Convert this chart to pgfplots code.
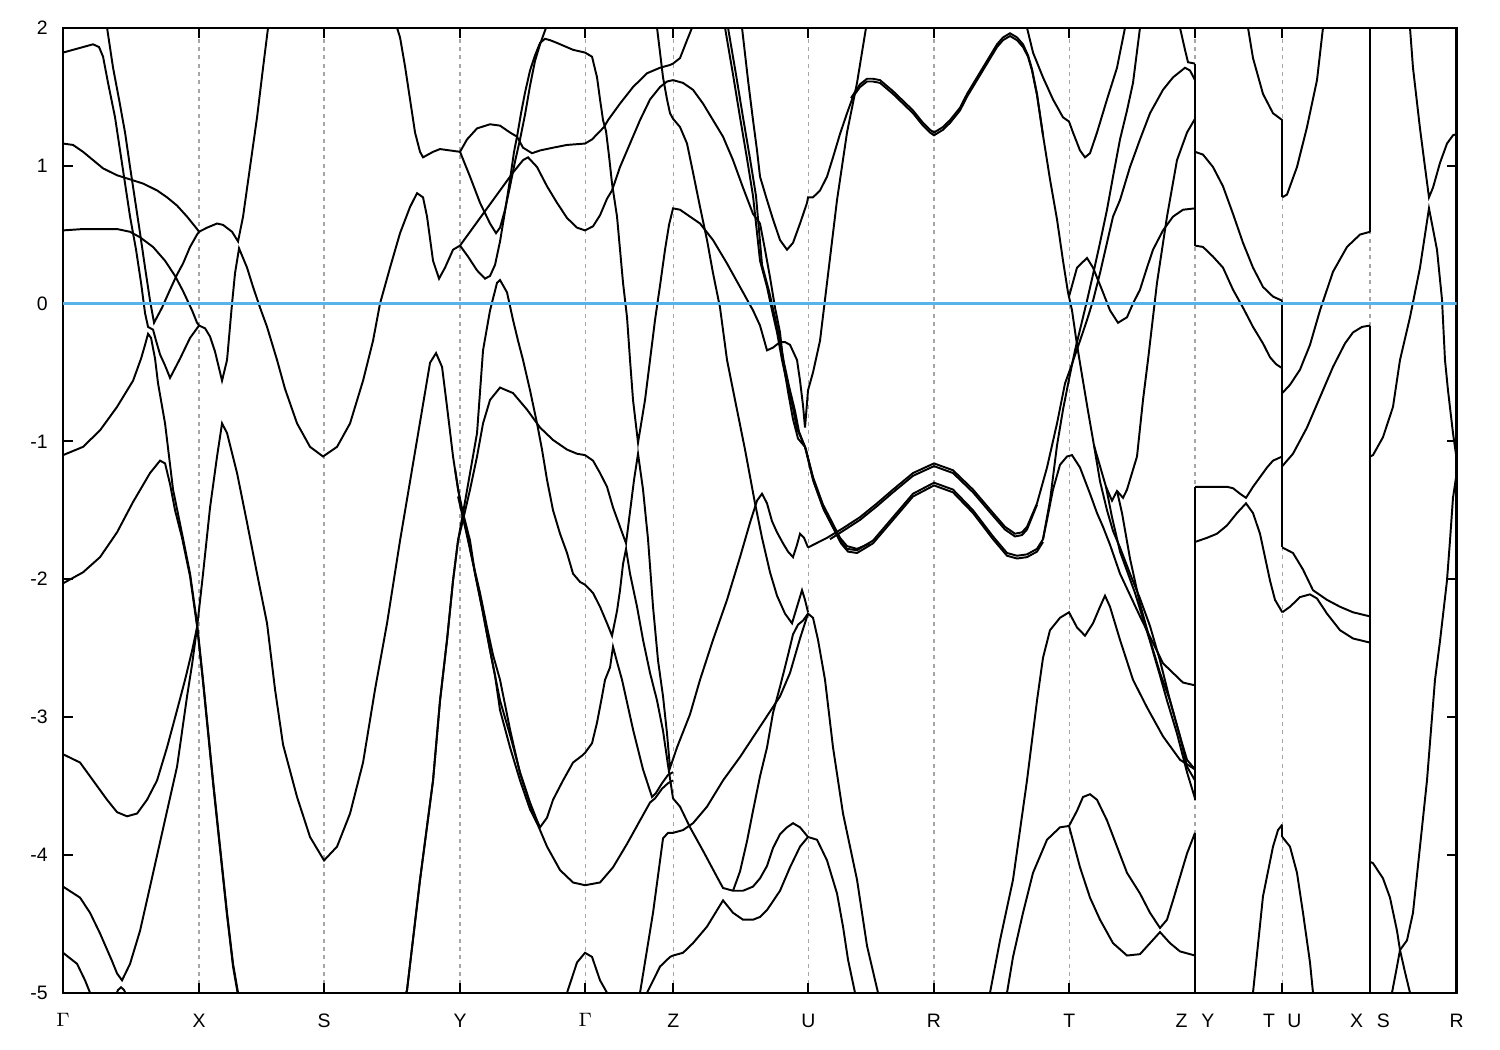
\documentclass[border=0pt]{standalone}
\usepackage{fontspec}
\setmainfont{Liberation Sans}
\usepackage{pgfplots}
\pgfplotsset{compat=1.18}
\definecolor{zeroblue}{RGB}{86,180,233}
\begin{document}
\begin{tikzpicture}
\begin{axis}[
  name=ax,
  scale only axis,
  width=501.7pt, height=347.4pt,
  xmin=63, xmax=1456.7, ymin=-5, ymax=2,
  axis line style={line width=0.9pt},
  xtick={63,199,324,460,585.3,673.3,808.3,934,1069.3,1195,1282.3,1370,1456.7},
  xticklabels={$\Gamma$,X,S,Y,$\Gamma$,Z,U,R,T,{Z\hspace{5pt}Y},{T\hspace{4.5pt}U},{X\hspace{5pt}S},R},
  ytick={-5,-4,-3,-2,-1,0,1,2},
  yticklabels={-5,-4,-3,-2,-1,0,1,2},
  tick align=inside, major tick length=3.6pt,
  tick style={line width=0.8pt, black},
  xmajorgrids,
  major grid style={gray!70, line width=0.4pt, dash pattern=on 1.5pt off 1.5pt},
  ticklabel style={font=\fontsize{7}{8}\selectfont},
  xticklabel style={yshift=-4pt},
  yticklabel style={xshift=-2pt},
  every axis plot/.append style={black, line width=0.7pt, no markers},
]
% ---------------- Gamma - X - S - Y ----------------
\addplot[] coordinates {(63,1.82)(83,1.86)(93,1.88)(99,1.86)(103,1.79)(108,1.60)(115,1.35)(120,1.11)(125,0.87)(130,0.63)(136,0.39)(141,0.15)(145,-0.07)(148,-0.17)(153,-0.19)(156,-0.27)(160,-0.37)(165,-0.45)(170,-0.54)(180,-0.40)(190,-0.25)(199,-0.16)};
\addplot[] coordinates {(106,2.06)(107,2.00)(113,1.71)(119,1.48)(125,1.24)(130,0.99)(135,0.75)(140,0.51)(145,0.26)(150,0.02)(154,-0.14)(162,-0.03)(170,0.10)(177,0.21)(183,0.29)(190,0.41)(197,0.50)(199,0.52)(207,0.55)(217,0.58)(223,0.57)(232,0.52)(238,0.45)(243,0.63)(250,0.99)(257,1.35)(263,1.71)(268,2.00)(269,2.06)};
\addplot[] coordinates {(63,1.16)(73,1.15)(83,1.10)(93,1.04)(103,0.98)(117,0.93)(130,0.90)(143,0.87)(157,0.82)(167,0.77)(177,0.71)(187,0.63)(197,0.54)(199,0.52)};
\addplot[] coordinates {(63,0.53)(83,0.54)(117,0.54)(130,0.52)(140,0.48)(153,0.41)(165,0.31)(175,0.20)(183,0.09)(192,-0.05)(197,-0.14)(199,-0.16)(205,-0.18)(210,-0.24)(215,-0.35)(222,-0.56)(227,-0.41)(232,0.00)(235,0.22)(239,0.40)(247,0.26)(253,0.12)(260,-0.03)(267,-0.17)(277,-0.41)(285,-0.62)(297,-0.87)(310,-1.04)(323,-1.11)(337,-1.04)(350,-0.87)(363,-0.56)(373,-0.27)(380,0.00)(390,0.26)(400,0.51)(410,0.70)(417,0.80)(423,0.77)(427,0.63)(433,0.31)(439,0.18)(445,0.26)(453,0.39)(460,0.42)(473,0.55)(487,0.69)(500,0.82)(513,0.95)(523,1.04)(528,1.06)(537,0.99)(547,0.85)(557,0.73)(567,0.62)(577,0.55)(585,0.53)(593,0.56)(600,0.64)(607,0.76)(612,0.82)(620,0.99)(630,1.16)(640,1.33)(650,1.48)(660,1.57)(667,1.61)(673,1.62)(683,1.60)(693,1.55)(703,1.45)(713,1.33)(723,1.21)(733,1.04)(743,0.84)(753,0.65)(760,0.58)(765,0.39)(770,0.19)(775,-0.03)(780,-0.21)(783,-0.41)(788,-0.64)(793,-0.84)(798,-0.98)(805,-1.04)(813,-1.26)(823,-1.46)(833,-1.60)(840,-1.70)(847,-1.76)(857,-1.78)(870,-1.74)};
\addplot[] coordinates {(63,-1.10)(83,-1.04)(100,-0.92)(117,-0.75)(133,-0.56)(141,-0.40)(145,-0.30)(148,-0.22)(151,-0.25)(155,-0.40)(158,-0.58)(165,-0.87)(173,-1.35)(182,-1.67)(190,-1.96)(197,-2.32)(203,-2.73)(213,-3.46)(220,-3.94)(227,-4.42)(233,-4.79)(238,-5.00)(239,-5.06)};
\addplot[] coordinates {(63,-2.03)(83,-1.95)(100,-1.84)(117,-1.66)(133,-1.44)(150,-1.23)(160,-1.14)(165,-1.16)(170,-1.31)(175,-1.50)(182,-1.70)(190,-1.98)(197,-2.34)(203,-2.75)(213,-3.48)(220,-3.96)(227,-4.44)(233,-4.81)(238,-5.02)(239,-5.06)};
\addplot[] coordinates {(63,-4.23)(80,-4.31)(90,-4.42)(100,-4.57)(112,-4.77)(117,-4.86)(122,-4.91)(130,-4.79)(140,-4.55)(150,-4.23)(163,-3.81)(177,-3.36)(187,-2.85)(192,-2.62)(197,-2.35)(203,-1.96)(210,-1.48)(217,-1.11)(222,-0.87)(227,-0.94)(237,-1.23)(247,-1.59)(257,-1.96)(267,-2.32)(275,-2.80)(283,-3.20)(297,-3.58)(310,-3.87)(324,-4.04)(337,-3.94)(350,-3.70)(363,-3.33)(375,-2.80)(387,-2.32)(400,-1.72)(417,-0.99)(430,-0.43)(436,-0.36)(442,-0.46)(447,-0.75)(453,-1.11)(458,-1.35)(463,-1.52)(470,-1.72)(475,-1.96)(482,-2.20)(488,-2.44)(495,-2.70)(500,-2.95)(510,-3.22)(520,-3.46)(530,-3.67)(537,-3.77)(540,-3.80)(547,-3.73)(553,-3.60)(563,-3.46)(573,-3.33)(582,-3.28)(585,-3.26)(592,-3.19)(597,-3.04)(602,-2.85)(605,-2.73)(610,-2.64)(613,-2.49)(617,-2.60)(622,-2.73)(633,-3.09)(643,-3.38)(652,-3.58)(656,-3.55)(662,-3.48)(668,-3.42)(673,-3.40)};
\addplot[] coordinates {(63,-3.27)(80,-3.33)(93,-3.46)(107,-3.60)(117,-3.69)(127,-3.72)(137,-3.70)(147,-3.60)(157,-3.46)(167,-3.22)(177,-2.95)(185,-2.73)(192,-2.52)(197,-2.35)};
\addplot[] coordinates {(455,-1.20)(460,-1.43)(463,-1.55)(467,-1.67)(475,-1.96)(483,-2.25)(492,-2.59)(500,-2.88)(510,-3.13)(520,-3.40)(530,-3.62)(537,-3.75)(540,-3.80)};
\addplot[] coordinates {(63,-4.71)(77,-4.79)(85,-4.91)(90,-5.00)(91,-5.06)};
\addplot[] coordinates {(115,-5.03)(118,-4.98)(121,-4.96)(124,-4.98)(127,-5.03)};
% ---------------- Y - Gamma - Z ----------------
\addplot[] coordinates {(396,2.05)(397,2.00)(400,1.93)(405,1.72)(410,1.48)(415,1.24)(420,1.10)(423,1.06)(433,1.10)(440,1.12)(450,1.11)(460,1.10)};
\addplot[] coordinates {(460,1.10)(467,1.19)(477,1.27)(490,1.30)(500,1.29)(510,1.24)(517,1.21)(523,1.13)(532,1.09)(540,1.11)(553,1.13)(567,1.15)(585,1.16)(592,1.19)(600,1.25)(604,1.28)(608,1.33)(620,1.45)(633,1.57)(647,1.67)(660,1.71)(670,1.73)(673,1.74)(680,1.78)(687,1.91)(692,2.00)(693,2.06)};
\addplot[] coordinates {(460,1.10)(470,0.92)(480,0.73)(490,0.58)(496,0.51)(500,0.55)(505,0.68)(510,0.85)(515,1.03)(520,1.19)(525,1.37)(530,1.58)(535,1.76)(540,1.88)(546,2.00)(547,2.06)};
\addplot[] coordinates {(460,0.42)(468,0.34)(477,0.24)(485,0.18)(490,0.20)(495,0.28)(500,0.45)(505,0.67)(510,0.90)(514,1.10)(517,1.21)(521,1.38)(525,1.53)(530,1.69)(535,1.80)(540,1.89)(545,1.92)(550,1.91)(557,1.89)(573,1.84)(585,1.82)(592,1.79)(597,1.64)(600,1.48)(603,1.33)(606,1.25)(609,1.07)(612,0.87)(617,0.63)(620,0.39)(623,0.15)(627,-0.10)(630,-0.41)(633,-0.70)(638,-1.01)(645,-0.70)(650,-0.41)(655,-0.12)(660,0.13)(665,0.39)(669,0.57)(673,0.69)(680,0.68)(690,0.63)(700,0.58)(713,0.46)(727,0.29)(740,0.12)(753,-0.05)(760,-0.16)(767,-0.34)(773,-0.32)(780,-0.28)(785,-0.28)(790,-0.30)(797,-0.41)(800,-0.56)(803,-0.74)(805,-0.90)(808,-0.63)(813,-0.50)(820,-0.27)(827,0.15)(837,0.75)(847,1.24)(857,1.60)(866,2.00)(867,2.06)};
\addplot[] coordinates {(404,-5.06)(407,-4.98)(420,-4.18)(433,-3.46)(440,-2.88)(447,-2.44)(453,-2.01)(458,-1.72)(463,-1.57)(470,-1.35)(477,-1.11)(483,-0.87)(490,-0.70)(500,-0.61)(513,-0.65)(527,-0.77)(540,-0.90)(553,-0.99)(567,-1.06)(577,-1.09)(585,-1.10)(593,-1.14)(600,-1.23)(607,-1.33)(613,-1.48)(620,-1.62)(626,-1.74)(630,-1.51)(634,-1.28)(638,-1.09)(643,-1.35)(648,-1.71)(653,-2.20)(658,-2.59)(663,-2.85)(667,-3.12)(670,-3.37)(677,-3.22)(690,-2.98)(700,-2.73)(713,-2.44)(727,-2.15)(740,-1.84)(750,-1.59)(757,-1.43)(762,-1.38)(767,-1.45)(772,-1.58)(777,-1.66)(783,-1.74)(788,-1.80)(793,-1.84)(797,-1.75)(800,-1.67)(804,-1.70)(808,-1.77)};
\addplot[] coordinates {(404,-5.06)(407,-4.98)(420,-4.18)(433,-3.46)(440,-2.88)(447,-2.44)(453,-2.01)(458,-1.72)(463,-1.52)(470,-1.23)(477,-0.94)(483,-0.34)(490,-0.05)(497,0.15)(500,0.17)(507,0.08)(513,-0.12)(518,-0.27)(523,-0.41)(530,-0.63)(537,-0.87)(542,-1.06)(547,-1.28)(553,-1.50)(560,-1.67)(567,-1.81)(573,-1.96)(580,-2.02)(585,-2.04)(593,-2.10)(600,-2.20)(607,-2.32)(612,-2.41)(617,-2.23)(620,-2.08)(623,-1.89)(626,-1.78)(630,-1.96)(637,-2.20)(643,-2.44)(650,-2.68)(657,-2.88)(663,-3.10)(668,-3.35)(673,-3.59)(680,-3.65)(690,-3.80)(703,-3.97)(717,-4.16)(723,-4.24)(733,-4.26)(743,-4.26)(753,-4.23)(760,-4.17)(767,-4.08)(773,-3.95)(780,-3.85)(787,-3.80)(793,-3.77)(800,-3.80)(808,-3.87)(817,-3.89)(827,-4.04)(837,-4.28)(843,-4.52)(848,-4.76)(855,-5.00)(856,-5.06)};
\addplot[] coordinates {(458,-1.40)(465,-1.62)(472,-1.85)(480,-2.10)(487,-2.35)(493,-2.55)(500,-2.73)(510,-3.09)(520,-3.41)(533,-3.70)(547,-3.94)(560,-4.11)(573,-4.20)(585,-4.22)(600,-4.20)(613,-4.09)(627,-3.92)(640,-3.75)(650,-3.62)(655,-3.59)(662,-3.52)(668,-3.48)(673,-3.46)};
\addplot[] coordinates {(565,-5.03)(567,-5.00)(577,-4.78)(585,-4.71)(592,-4.74)(600,-4.91)(607,-5.00)(608,-5.03)};
\addplot[] coordinates {(639,-5.06)(640,-5.00)(653,-4.42)(663,-3.88)(668,-3.84)(673,-3.84)(683,-3.82)(693,-3.77)(707,-3.65)(723,-3.46)(740,-3.29)(760,-3.07)(780,-2.85)(790,-2.68)(800,-2.43)(808,-2.25)(813,-2.28)(818,-2.44)(825,-2.73)(833,-3.22)(843,-3.70)(857,-4.18)(867,-4.66)(878,-5.00)(879,-5.06)};
\addplot[] coordinates {(733,-4.26)(740,-4.12)(747,-3.90)(753,-3.68)(760,-3.43)(767,-3.22)(773,-2.97)(780,-2.78)(787,-2.58)(793,-2.40)(798,-2.33)(803,-2.30)(808,-2.25)};
\addplot[] coordinates {(646,-5.06)(647,-5.00)(660,-4.81)(670,-4.74)(673,-4.73)(683,-4.71)(693,-4.64)(707,-4.52)(723,-4.33)(733,-4.42)(743,-4.47)(753,-4.47)(760,-4.45)(767,-4.40)(780,-4.26)(790,-4.09)(800,-3.94)(808,-3.87)};
\addplot[] coordinates {(656,2.06)(657,2.00)(663,1.64)(667,1.48)(670,1.38)(673,1.34)(680,1.28)(687,1.16)(693,0.95)(700,0.70)(707,0.46)(713,0.22)(720,-0.03)(727,-0.41)(735,-0.70)(745,-1.06)(755,-1.45)(762,-1.70)(770,-1.95)(777,-2.12)(785,-2.25)(792,-2.32)(797,-2.20)(802,-2.08)(805,-2.15)(808,-2.24)};
% ---------------- Z - U - R - T ----------------
\addplot[] coordinates {(724,2.06)(725,2.00)(733,1.66)(740,1.35)(747,1.05)(753,0.78)(760,0.31)(767,0.12)(772,-0.05)(777,-0.21)(782,-0.41)(787,-0.58)(793,-0.76)(797,-0.91)(805,-1.04)(813,-1.28)(823,-1.48)(833,-1.62)(840,-1.72)(847,-1.78)(857,-1.79)(873,-1.72)(893,-1.55)(913,-1.38)(934,-1.30)(953,-1.35)(973,-1.50)(993,-1.69)(1007,-1.81)(1017,-1.83)(1027,-1.82)(1037,-1.78)(1043,-1.71)(1047,-1.57)(1053,-1.35)(1060,-1.17)(1067,-1.11)(1072,-1.10)(1080,-1.19)(1090,-1.38)(1097,-1.52)(1103,-1.62)(1110,-1.75)(1120,-1.96)(1140,-2.27)(1163,-2.61)(1183,-2.75)(1195,-2.77)};
\addplot[] coordinates {(727,2.06)(728,2.00)(736,1.66)(743,1.35)(750,1.05)(756,0.78)(762,0.28)(769,0.09)(774,-0.07)(779,-0.23)(784,-0.43)(789,-0.60)(795,-0.78)(799,-0.93)(806,-1.06)(814,-1.30)(824,-1.50)(834,-1.64)(841,-1.74)(848,-1.80)(857,-1.81)(873,-1.74)(893,-1.57)(913,-1.40)(934,-1.32)(953,-1.37)(973,-1.52)(993,-1.71)(1007,-1.83)(1017,-1.85)(1027,-1.84)(1037,-1.80)(1043,-1.73)};
\addplot[] coordinates {(741,2.06)(742,2.00)(748,1.62)(753,1.33)(757,1.11)(760,0.92)(767,0.75)(773,0.61)(780,0.46)(787,0.39)(793,0.44)(800,0.58)(807,0.73)(808,0.77)(813,0.77)(820,0.82)(827,0.92)(833,1.06)(840,1.23)(847,1.38)(853,1.50)(860,1.57)(867,1.61)(873,1.61)(880,1.60)(893,1.52)(903,1.45)(913,1.38)(923,1.29)(930,1.24)(934,1.22)(943,1.26)(950,1.31)(960,1.40)(967,1.50)(977,1.62)(987,1.74)(997,1.86)(1003,1.91)(1010,1.94)(1017,1.91)(1023,1.86)(1028,1.79)(1032,1.69)(1037,1.51)(1043,1.22)(1050,0.90)(1057,0.61)(1063,0.31)(1068,0.08)(1072,-0.05)(1077,-0.30)(1082,-0.52)(1088,-0.78)(1094,-1.03)(1100,-1.29)(1107,-1.50)(1113,-1.65)(1120,-1.77)(1130,-1.96)(1140,-2.14)(1150,-2.34)(1160,-2.59)(1170,-2.88)(1180,-3.14)(1187,-3.31)(1195,-3.38)};
\addplot[] coordinates {(851,1.49)(860,1.59)(867,1.63)(873,1.63)(880,1.62)(893,1.54)(903,1.47)(913,1.40)(923,1.31)(930,1.26)(934,1.24)(943,1.28)(950,1.33)(960,1.42)(967,1.52)(977,1.64)(987,1.76)(997,1.88)(1003,1.93)(1010,1.96)(1017,1.93)(1023,1.88)(1028,1.80)(1032,1.70)(1037,1.52)(1043,1.22)};
\addplot[] coordinates {(808,-1.77)(827,-1.70)(843,-1.63)(860,-1.55)(877,-1.45)(893,-1.35)(913,-1.23)(934,-1.16)(953,-1.21)(973,-1.35)(993,-1.52)(1005,-1.62)(1015,-1.67)(1022,-1.66)(1027,-1.62)(1037,-1.45)(1047,-1.19)(1057,-0.87)(1065,-0.58)(1070,-0.48)(1080,-0.27)(1087,-0.12)(1093,0.02)(1100,0.22)(1113,0.63)(1120,0.75)(1130,0.99)(1140,1.19)(1150,1.38)(1163,1.55)(1173,1.64)(1185,1.71)(1190,1.69)(1195,1.62)};
\addplot[] coordinates {(830,-1.71)(843,-1.65)(860,-1.57)(877,-1.47)(893,-1.37)(913,-1.25)(934,-1.18)(953,-1.23)(973,-1.37)(993,-1.54)(1005,-1.64)(1015,-1.69)(1022,-1.68)(1027,-1.64)(1037,-1.46)};
\addplot[] coordinates {(1043,-1.71)(1050,-1.43)(1057,-1.03)(1063,-0.77)(1069,-0.55)(1075,-0.34)(1080,-0.19)(1087,0.02)(1093,0.21)(1100,0.44)(1107,0.68)(1113,0.92)(1120,1.19)(1127,1.40)(1133,1.60)(1140,2.00)(1141,2.06)};
\addplot[] coordinates {(1069,0.05)(1077,0.26)(1087,0.33)(1093,0.26)(1098,0.17)(1103,0.08)(1110,-0.05)(1118,-0.14)(1127,-0.10)(1133,0.00)(1140,0.10)(1147,0.26)(1153,0.39)(1163,0.53)(1173,0.63)(1183,0.68)(1195,0.69)};
\addplot[] coordinates {(1026,2.06)(1027,2.00)(1033,1.82)(1043,1.64)(1053,1.48)(1063,1.35)(1069,1.32)(1073,1.24)(1080,1.11)(1085,1.06)(1090,1.09)(1097,1.24)(1107,1.48)(1117,1.71)(1125,2.00)(1126,2.06)};
\addplot[] coordinates {(1094,-1.03)(1100,-1.18)(1106,-1.33)(1112,-1.43)(1117,-1.36)(1123,-1.41)(1127,-1.35)(1137,-1.11)(1143,-0.70)(1148,-0.41)(1157,0.15)(1167,0.63)(1177,1.04)(1187,1.24)(1195,1.34)};
\addplot[] coordinates {(1179,2.06)(1180,2.00)(1185,1.84)(1188,1.75)(1195,1.74)};
\addplot[] coordinates {(989,-5.06)(990,-5.00)(1000,-4.62)(1013,-4.18)(1027,-3.46)(1037,-2.88)(1043,-2.57)(1050,-2.37)(1060,-2.28)(1069,-2.24)(1077,-2.35)(1085,-2.41)(1093,-2.32)(1100,-2.20)(1105,-2.12)(1110,-2.20)(1120,-2.44)(1133,-2.73)(1147,-2.93)(1163,-3.14)(1180,-3.31)(1195,-3.38)};
\addplot[] coordinates {(1006,-5.06)(1007,-5.00)(1013,-4.74)(1023,-4.42)(1033,-4.13)(1047,-3.89)(1060,-3.80)(1069,-3.79)(1077,-3.68)(1083,-3.58)(1090,-3.56)(1097,-3.60)(1107,-3.75)(1117,-3.94)(1127,-4.13)(1140,-4.28)(1150,-4.42)(1160,-4.53)(1167,-4.47)(1173,-4.33)(1180,-4.16)(1187,-3.99)(1195,-3.84)};
\addplot[] coordinates {(1069,-3.79)(1080,-4.09)(1090,-4.31)(1100,-4.47)(1113,-4.64)(1127,-4.73)(1140,-4.72)(1150,-4.64)(1160,-4.56)(1170,-4.64)(1180,-4.70)(1195,-4.73)};
\addplot[] coordinates {(1117,-1.36)(1122,-1.52)(1130,-1.85)(1140,-2.18)(1150,-2.44)(1160,-2.68)(1170,-2.88)(1180,-3.14)(1187,-3.36)(1195,-3.46)};
\addplot[] coordinates {(1106,-1.33)(1112,-1.55)(1120,-1.80)(1135,-2.10)(1150,-2.45)(1160,-2.70)(1167,-2.88)(1177,-3.12)(1187,-3.40)(1195,-3.59)};
% ---------------- Y - T - U - X - S - R ----------------
\addplot[] coordinates {(1195,1.10)(1203,1.08)(1213,0.99)(1223,0.85)(1233,0.65)(1243,0.44)(1253,0.26)(1263,0.12)(1273,0.05)(1282.3,0.02)};
\addplot[] coordinates {(1195,0.42)(1203,0.41)(1213,0.34)(1223,0.26)(1233,0.10)(1243,-0.03)(1253,-0.17)(1263,-0.29)(1270,-0.39)(1276,-0.44)(1282.3,-0.47)};
\addplot[] coordinates {(1195,-1.33)(1203,-1.33)(1217,-1.33)(1227,-1.33)(1233,-1.34)(1240,-1.38)(1246,-1.41)(1253,-1.33)(1260,-1.26)(1267,-1.19)(1273,-1.14)(1282.3,-1.11)};
\addplot[] coordinates {(1195,-1.73)(1207,-1.70)(1217,-1.67)(1227,-1.61)(1237,-1.52)(1246,-1.45)(1253,-1.52)(1260,-1.67)(1265,-1.84)(1270,-2.01)(1275,-2.15)(1282.3,-2.24)};
\addplot[] coordinates {(1252,-5.06)(1253,-5.00)(1263,-4.30)(1273,-3.94)(1278,-3.82)(1282.3,-3.78)};
\addplot[] coordinates {(1282.3,0.77)(1287,0.79)(1297,0.99)(1307,1.28)(1317,1.62)(1323,2.00)(1324,2.06)};
\addplot[] coordinates {(1247,2.06)(1248,2.00)(1253,1.78)(1263,1.52)(1273,1.38)(1282.3,1.33)};
\addplot[] coordinates {(1282.3,-0.65)(1290,-0.59)(1300,-0.48)(1310,-0.30)(1320,-0.05)(1333,0.23)(1347,0.41)(1360,0.50)(1370,0.52)};
\addplot[] coordinates {(1282.3,-1.18)(1293,-1.09)(1307,-0.90)(1320,-0.68)(1333,-0.46)(1345,-0.29)(1353,-0.21)(1362,-0.17)(1370,-0.16)};
\addplot[] coordinates {(1282.3,-1.77)(1293,-1.81)(1303,-1.93)(1313,-2.08)(1327,-2.15)(1340,-2.20)(1353,-2.24)(1370,-2.27)};
\addplot[] coordinates {(1282.3,-2.24)(1290,-2.20)(1300,-2.13)(1310,-2.11)(1317,-2.14)(1327,-2.25)(1340,-2.37)(1353,-2.43)(1370,-2.46)};
\addplot[] coordinates {(1282.3,-3.87)(1290,-3.94)(1297,-4.13)(1303,-4.42)(1310,-4.78)(1313,-5.00)(1314,-5.06)};
\addplot[] coordinates {(1409,2.06)(1410,2.00)(1413,1.71)(1420,1.27)(1425,0.99)(1429,0.77)(1433,0.84)(1440,1.02)(1447,1.16)(1453,1.22)(1456.7,1.23)};
\addplot[] coordinates {(1370,-1.11)(1373,-1.10)(1383,-0.97)(1393,-0.75)(1400,-0.41)(1410,-0.10)(1420,0.26)(1429,0.69)(1437,0.39)(1442,0.03)(1445,-0.41)(1448,-0.63)(1453,-0.94)(1456.7,-1.13)};
\addplot[] coordinates {(1456.7,-1.23)(1453,-1.41)(1450,-1.72)(1447,-2.01)(1440,-2.45)(1435,-2.73)(1427,-3.46)(1420,-3.94)(1413,-4.42)(1407,-4.62)(1400,-4.69)(1397,-4.81)(1392,-5.00)(1391,-5.06)};
\addplot[] coordinates {(1370,-4.05)(1373,-4.06)(1383,-4.17)(1390,-4.31)(1397,-4.55)(1400,-4.69)(1405,-4.85)(1410,-5.00)(1411,-5.06)};
% vertical jumps at path discontinuities
\addplot[] coordinates {(1195,0.42)(1195,1.74)};
\addplot[] coordinates {(1195,-3.60)(1195,-1.33)};
\addplot[] coordinates {(1195,-5.05)(1195,-3.84)};
\addplot[] coordinates {(1282.3,0.77)(1282.3,1.33)};
\addplot[] coordinates {(1282.3,-1.77)(1282.3,0.02)};
\addplot[] coordinates {(1282.3,-3.87)(1282.3,-3.78)};
\addplot[] coordinates {(1370,0.52)(1370,2.05)};
\addplot[] coordinates {(1370,-5.05)(1370,-0.16)};
% Fermi level
\addplot[color=zeroblue, line width=0.8pt] coordinates {(63,0)(1456.7,0)};
\end{axis}
\path ([xshift=-22.7pt,yshift=-20.6pt]ax.south west) rectangle ([xshift=15.6pt,yshift=10pt]ax.north east);
\end{tikzpicture}
\end{document}
